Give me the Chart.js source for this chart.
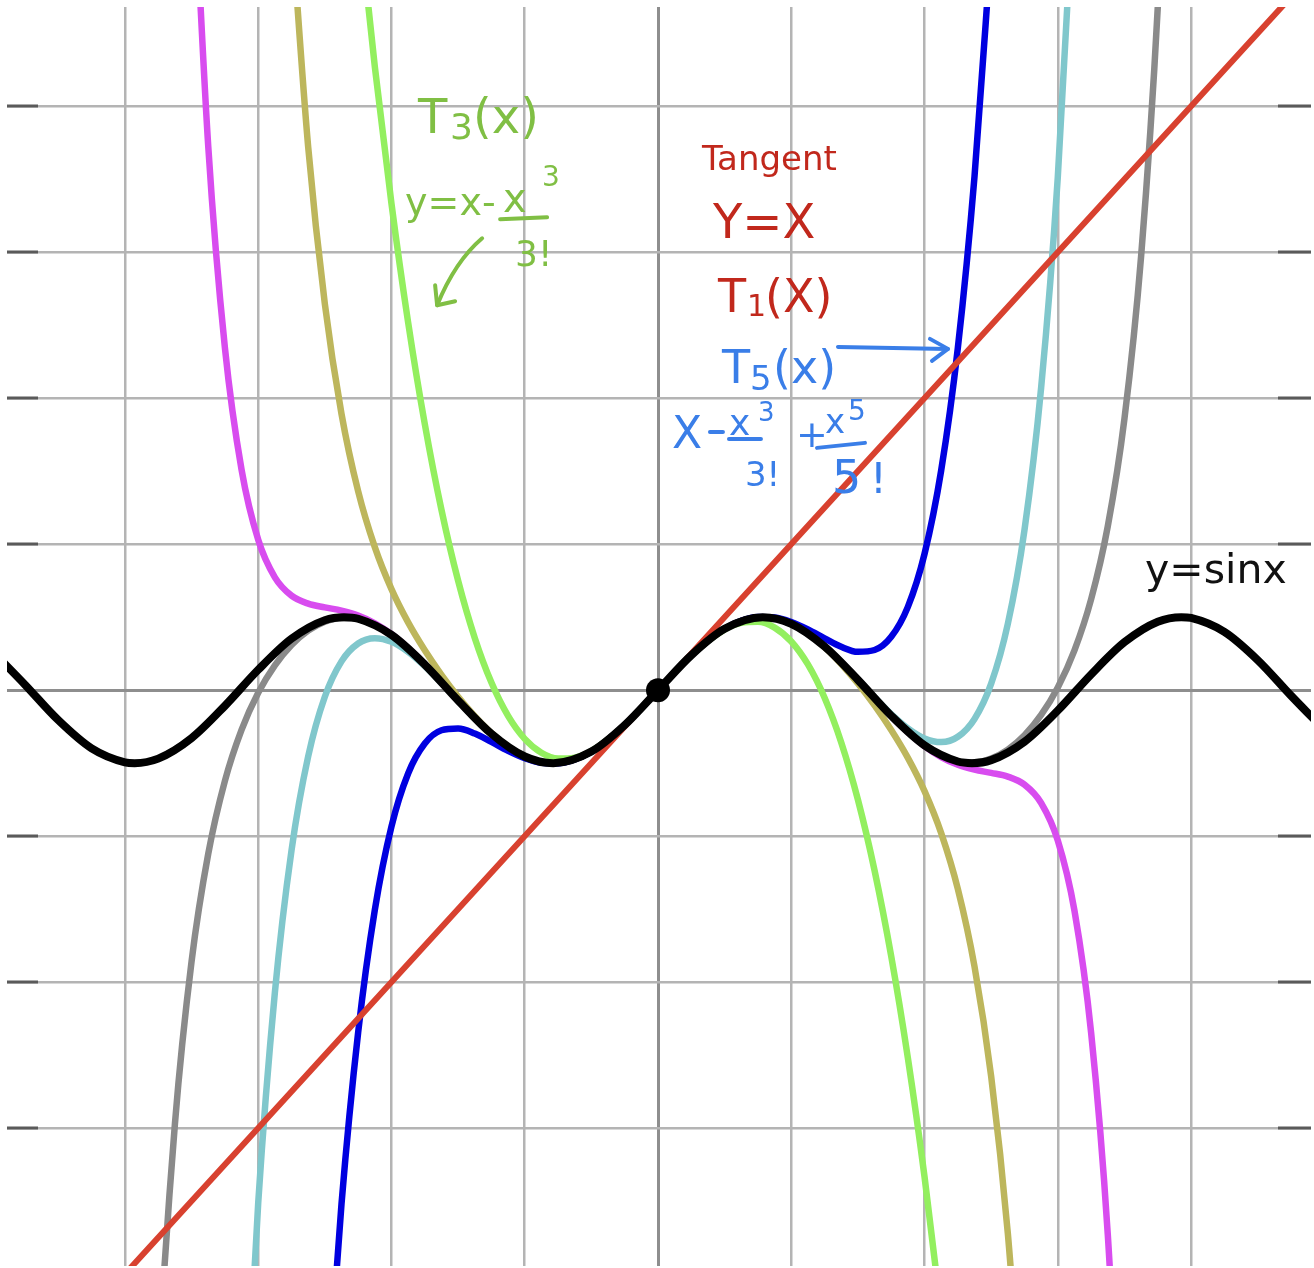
<!DOCTYPE html>
<html>
<head>
<meta charset="utf-8">
<script src="https://cdn.jsdelivr.net/npm/chart.js@4.4.1/dist/chart.umd.min.js"></script>
<style>
  html, body { margin: 0; padding: 0; background: #ffffff; }
  canvas { display: block; }
</style>
</head>
<body>
<canvas id="graficoTaylor" width="1314" height="1268"></canvas>
<script>
// y = sin x
const senoX = [-10, -9.5, -9, -8.5, -8, -7.854, -7.5, -7, -6.5, -6, -5.5, -5, -4.712, -4.5, -4, -3.5, -3, -2.5, -2, -1.571, -1, -0.5, 0,
               0.5, 1, 1.571, 2, 2.5, 3, 3.5, 4, 4.5, 4.712, 5, 5.5, 6, 6.5, 7, 7.5, 7.854, 8, 8.5, 9, 9.5, 10];
const senoY = [0.544, 0.075, -0.412, -0.798, -0.989, -1, -0.938, -0.657, -0.215, 0.279, 0.706, 0.959, 1, 0.978, 0.757, 0.351, -0.141, -0.598, -0.909, -1, -0.841, -0.479, 0,
               0.479, 0.841, 1, 0.909, 0.598, 0.141, -0.351, -0.757, -0.978, -1, -0.959, -0.706, -0.279, 0.215, 0.657, 0.938, 1, 0.989, 0.798, 0.412, -0.075, -0.544];

// T1(x) = x (reta tangente)
const t1X = [-10, 10];
const t1Y = [-10, 10];

// T3(x)
const t3X = [-4.5, -4.25, -4, -3.75, -3.5, -3.25, -3, -2.75, -2.5, -2.25, -2, -1.75, -1.5, -1.25, -1, -0.5, 0,
             0.5, 1, 1.25, 1.5, 1.75, 2, 2.25, 2.5, 2.75, 3, 3.25, 3.5, 3.75, 4, 4.25, 4.5];
const t3Y = [10.688, 8.544, 6.667, 5.039, 3.646, 2.471, 1.5, 0.716, 0.104, -0.352, -0.667, -0.857, -0.938, -0.924, -0.833, -0.479, 0,
             0.479, 0.833, 0.924, 0.938, 0.857, 0.667, 0.352, -0.104, -0.716, -1.5, -2.471, -3.646, -5.039, -6.667, -8.544, -10.688];

// T5(x)
const t5X = [-5, -4.75, -4.5, -4.25, -4, -3.75, -3.5, -3.25, -3, -2.75, -2.5, -2.25, -2, -1.75, -1.5, -1.25, -1, -0.5, 0,
             0.5, 1, 1.25, 1.5, 1.75, 2, 2.25, 2.5, 2.75, 3, 3.25, 3.5, 3.75, 4, 4.25, 4.5, 4.75, 5];
const t5Y = [-10.208, -7.039, -4.69, -3.011, -1.867, -1.141, -0.731, -0.55, -0.525, -0.594, -0.71, -0.832, -0.933, -0.994, -1.001, -0.95, -0.842, -0.479, 0,
             0.479, 0.842, 0.95, 1.001, 0.994, 0.933, 0.832, 0.71, 0.594, 0.525, 0.55, 0.731, 1.141, 1.867, 3.011, 4.69, 7.039, 10.208];

// T7(x)
const t7X = [-5.5, -5.25, -5, -4.75, -4.5, -4.25, -4, -3.75, -3.5, -3.25, -3, -2.75, -2.5, -2.25, -2, -1.75, -1.5, -1.25, -1, -0.5, 0,
             0.5, 1, 1.25, 1.5, 1.75, 2, 2.25, 2.5, 2.75, 3, 3.25, 3.5, 3.75, 4, 4.25, 4.5, 4.75, 5, 5.25, 5.5];
const t7Y = [10.496, 7.442, 5.293, 3.786, 2.724, 1.959, 1.384, 0.928, 0.546, 0.21, -0.091, -0.358, -0.589, -0.774, -0.908, -0.984, -0.997, -0.949, -0.841, -0.479, 0,
             0.479, 0.841, 0.949, 0.997, 0.984, 0.908, 0.774, 0.589, 0.358, 0.091, -0.21, -0.546, -0.928, -1.384, -1.959, -2.724, -3.786, -5.293, -7.442, -10.496];

// T9(x)
const t9X = [-6.25, -6, -5.75, -5.5, -5.25, -5, -4.75, -4.5, -4.25, -4, -3.75, -3.5, -3.25, -3, -2.75, -2.5, -2.25, -2, -1.75, -1.5, -1.25, -1, -0.5, 0,
             0.5, 1, 1.25, 1.5, 1.75, 2, 2.25, 2.5, 2.75, 3, 3.25, 3.5, 3.75, 4, 4.25, 4.5, 4.75, 5, 5.25, 5.5, 5.75, 6, 6.25];
const t9Y = [-11.219, -7.029, -4.145, -2.195, -0.908, -0.09, 0.394, 0.639, 0.712, 0.662, 0.524, 0.328, 0.098, -0.145, -0.383, -0.599, -0.778, -0.909, -0.984, -0.997, -0.949, -0.841, -0.479, 0,
             0.479, 0.841, 0.949, 0.997, 0.984, 0.909, 0.778, 0.599, 0.383, 0.145, -0.098, -0.328, -0.524, -0.662, -0.712, -0.639, -0.394, 0.09, 0.908, 2.195, 4.145, 7.029, 11.219];

// T11(x)
const t11X = [-7, -6.75, -6.5, -6.25, -6, -5.75, -5.5, -5.25, -5, -4.75, -4.5, -4.25, -4, -3.75, -3.5, -3.25, -3, -2.75, -2.5, -2.25, -2, -1.75, -1.5, -1.25, -1, -0.5, 0,
              0.5, 1, 1.25, 1.5, 1.75, 2, 2.25, 2.5, 2.75, 3, 3.25, 3.5, 3.75, 4, 4.25, 4.5, 4.75, 5, 5.25, 5.5, 5.75, 6, 6.25, 6.5, 6.75, 7];
const t11Y = [11.842, 7.454, 4.692, 3.021, 2.06, 1.546, 1.295, 1.185, 1.134, 1.09, 1.023, 0.917, 0.767, 0.576, 0.353, 0.109, -0.141, -0.382, -0.598, -0.778, -0.909, -0.984, -0.997, -0.949, -0.841, -0.479, 0,
              0.479, 0.841, 0.949, 0.997, 0.984, 0.909, 0.778, 0.598, 0.382, 0.141, -0.109, -0.353, -0.576, -0.767, -0.917, -1.023, -1.09, -1.134, -1.185, -1.295, -1.546, -2.06, -3.021, -4.692, -7.454, -11.842];

// T13(x)
const t13X = [-7.75, -7.5, -7.25, -7, -6.75, -6.5, -6.25, -6, -5.75, -5.5, -5.25, -5, -4.75, -4.5, -4.25, -4, -3.75, -3.5, -3.25, -3, -2.75, -2.5, -2.25, -2, -1.75, -1.5, -1.25, -1, -0.5, 0,
              0.5, 1, 1.25, 1.5, 1.75, 2, 2.25, 2.5, 2.75, 3, 3.25, 3.5, 3.75, 4, 4.25, 4.5, 4.75, 5, 5.25, 5.5, 5.75, 6, 6.25, 6.5, 6.75, 7, 7.25, 7.5, 7.75];
const t13Y = [-14.582, -9.35, -5.943, -3.717, -2.244, -1.245, -0.545, -0.037, 0.339, 0.618, 0.815, 0.938, 0.989, 0.973, 0.893, 0.756, 0.571, 0.351, 0.108, -0.141, -0.382, -0.598, -0.778, -0.909, -0.984, -0.997, -0.949, -0.841, -0.479, 0,
              0.479, 0.841, 0.949, 0.997, 0.984, 0.909, 0.778, 0.598, 0.382, 0.141, -0.108, -0.351, -0.571, -0.756, -0.893, -0.973, -0.989, -0.938, -0.815, -0.618, -0.339, 0.037, 0.545, 1.245, 2.244, 3.717, 5.943, 9.35, 14.582];

// ponto de tangência
const origemX = [0];
const origemY = [0];

// linhas da grade e marquinhas nas bordas
const gradeX = [-8, -6, -4, -2, 0, 2, 4, 6, 8];
const gradeY = [-6, -4, -2, 0, 2, 4, 6, 8];
const marcasY = [-6, -4, -2, 2, 4, 6, 8];

// anotações escritas à mão (âncora em unidades do gráfico, partes em pixels a partir dela)
const anotacoes = [
    { cor: '#80bf44', ancora: [-3.6, 7.63], partes: [
        { t: 'T', dx: 0, dy: 0, s: 48 },
        { t: '3', dx: 32, dy: 6, s: 36 },
        { t: '(x)', dx: 55, dy: 0, s: 48 },
        { t: 'y=x-', dx: -13, dy: 82, s: 38 },
        { t: 'x', dx: 85, dy: 79, s: 40 },
        { t: '3', dx: 124, dy: 53, s: 28 },
        { traco: [82, 86, 129, 84] },
        { t: '3!', dx: 97, dy: 133, s: 36 },
        { curva: [64, 105, 37, 128, 19, 172] },
        { traco: [17, 152, 19, 172, 37, 168] }
    ]},
    { cor: '#c1281c', ancora: [0.66, 7.13], partes: [
        { t: 'Tangent', dx: 0, dy: 0, s: 34 },
        { t: 'Y=X', dx: 11, dy: 68, s: 48 },
        { t: 'T', dx: 16, dy: 142, s: 46 },
        { t: '1', dx: 45, dy: 146, s: 30 },
        { t: '(X)', dx: 63, dy: 142, s: 46 }
    ]},
    { cor: '#3a7ee8', ancora: [0.96, 4.21], partes: [
        { t: 'T', dx: 0, dy: 0, s: 46 },
        { t: '5', dx: 28, dy: 7, s: 34 },
        { t: '(x)', dx: 51, dy: 0, s: 46 },
        { traco: [116, -36, 226, -34] },
        { traco: [208, -44, 226, -34, 210, -22] },
        { t: 'X', dx: -50, dy: 65, s: 44 },
        { traco: [-12, 49, 1, 49] },
        { t: 'x', dx: 7, dy: 52, s: 36 },
        { t: '3', dx: 36, dy: 38, s: 26 },
        { traco: [7, 56, 39, 56] },
        { t: '3!', dx: 23, dy: 103, s: 34 },
        { t: '+', dx: 74, dy: 64, s: 38 },
        { t: 'x', dx: 103, dy: 50, s: 34 },
        { t: '5', dx: 126, dy: 37, s: 28 },
        { traco: [95, 65, 143, 60] },
        { t: '5', dx: 110, dy: 110, s: 46 },
        { t: '!', dx: 148, dy: 110, s: 42 }
    ]},
    { cor: '#111111', ancora: [7.31, 1.47], partes: [
        { t: 'y=sinx', dx: 0, dy: 0, s: 41 }
    ]}
];

function pares(xs, ys) {
    return xs.map((x, i) => ({ x: x, y: ys[i] }));
}

function curva(rotulo, xs, ys, cor, largura) {
    return {
        label: rotulo,
        data: pares(xs, ys),
        borderColor: cor,
        backgroundColor: cor,
        borderWidth: largura,
        showLine: true,
        pointRadius: 0,
        pointHoverRadius: 0,
        fill: false,
        cubicInterpolationMode: 'monotone',
        capBezierPoints: false,
        borderCapStyle: 'round',
        borderJoinStyle: 'round'
    };
}

// tracinhos escuros nas bordas esquerda e direita
const marcasBorda = {
    id: 'marcasBorda',
    beforeDatasetsDraw(chart) {
        const { ctx, chartArea: a, scales: { y } } = chart;
        ctx.save();
        ctx.strokeStyle = '#5a5a5a';
        ctx.lineWidth = 3;
        marcasY.forEach(v => {
            const py = Math.round(y.getPixelForValue(v));
            ctx.beginPath();
            ctx.moveTo(a.left, py);
            ctx.lineTo(a.left + 31, py);
            ctx.moveTo(a.right - 33, py);
            ctx.lineTo(a.right, py);
            ctx.stroke();
        });
        ctx.restore();
    }
};

// textos e setas das anotações
const textosMao = {
    id: 'textosMao',
    afterDatasetsDraw(chart) {
        const { ctx, scales: { x, y } } = chart;
        ctx.save();
        ctx.textBaseline = 'alphabetic';
        ctx.textAlign = 'left';
        ctx.lineCap = 'round';
        ctx.lineJoin = 'round';
        ctx.lineWidth = 4;
        anotacoes.forEach(g => {
            const ox = x.getPixelForValue(g.ancora[0]);
            const oy = y.getPixelForValue(g.ancora[1]);
            ctx.fillStyle = g.cor;
            ctx.strokeStyle = g.cor;
            g.partes.forEach(p => {
                if (p.t) {
                    ctx.font = p.s + 'px "DejaVu Sans"';
                    ctx.fillText(p.t, ox + p.dx, oy + p.dy);
                } else if (p.traco) {
                    ctx.beginPath();
                    ctx.moveTo(ox + p.traco[0], oy + p.traco[1]);
                    for (let i = 2; i < p.traco.length; i += 2) {
                        ctx.lineTo(ox + p.traco[i], oy + p.traco[i + 1]);
                    }
                    ctx.stroke();
                } else if (p.curva) {
                    const c = p.curva;
                    ctx.beginPath();
                    ctx.moveTo(ox + c[0], oy + c[1]);
                    ctx.quadraticCurveTo(ox + c[2], oy + c[3], ox + c[4], oy + c[5]);
                    ctx.stroke();
                }
            });
        });
        ctx.restore();
    }
};

const ctx = document.getElementById('graficoTaylor').getContext('2d');
const graficoTaylor = new Chart(ctx, {
    type: 'scatter',
    data: {
        datasets: [
            // o primeiro da lista fica por cima
            curva('sin x', senoX, senoY, '#000000', 8),
            {
                label: 'origem',
                data: pares(origemX, origemY),
                showLine: false,
                pointRadius: 12,
                pointHoverRadius: 12,
                pointBackgroundColor: '#000000',
                pointBorderWidth: 0
            },
            curva('T1', t1X, t1Y, '#d8412f', 6),
            curva('T3', t3X, t3Y, '#93ef5f', 6.5),
            curva('T5', t5X, t5Y, '#0000e0', 6.5),
            curva('T7', t7X, t7Y, '#bdb65c', 6.5),
            curva('T9', t9X, t9Y, '#80c7cc', 6.5),
            curva('T11', t11X, t11Y, '#d84cef', 6.5),
            curva('T13', t13X, t13Y, '#8a8a8a', 6.5)
        ]
    },
    options: {
        responsive: false,
        animation: false,
        events: [],
        layout: { autoPadding: false, padding: { top: 7, left: 7, right: 3, bottom: 2 } },
        scales: {
            x: {
                type: 'linear',
                min: -9.77,
                max: 9.8,
                afterBuildTicks: s => { s.ticks = gradeX.map(v => ({ value: v })); },
                ticks: { display: false },
                border: { display: false },
                grid: {
                    drawTicks: false,
                    color: c => c.tick && c.tick.value === 0 ? '#8e8e8e' : '#b4b4b4',
                    lineWidth: c => c.tick && c.tick.value === 0 ? 3 : 2.5
                }
            },
            y: {
                type: 'linear',
                min: -7.89,
                max: 9.36,
                afterBuildTicks: s => { s.ticks = gradeY.map(v => ({ value: v })); },
                ticks: { display: false },
                border: { display: false },
                grid: {
                    drawTicks: false,
                    color: c => c.tick && c.tick.value === 0 ? '#8e8e8e' : '#b4b4b4',
                    lineWidth: c => c.tick && c.tick.value === 0 ? 3 : 2.5
                }
            }
        },
        plugins: {
            legend: { display: false },
            tooltip: { enabled: false }
        }
    },
    plugins: [marcasBorda, textosMao]
});
</script>
</body>
</html>
